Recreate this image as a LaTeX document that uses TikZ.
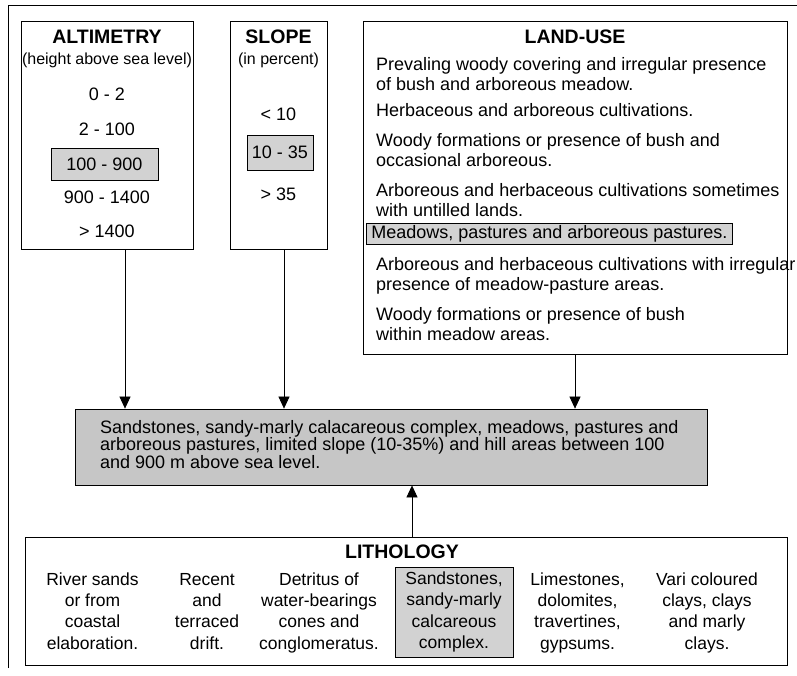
\documentclass[tikz,border=0pt]{standalone}
\usepackage{fontspec}
\setmainfont{Liberation Sans}
\usetikzlibrary{arrows.meta, positioning}

\begin{document}
\begin{tikzpicture}[
    x=1pt, y=-1pt,
    panel/.style={rectangle, draw, line width=0.8pt},
    shaded/.style={rectangle, draw, line width=0.6pt, fill=gray!35},
    title/.style={font=\fontsize{19.5}{22}\selectfont\bfseries, inner sep=0pt},
    subtitle/.style={font=\fontsize{16}{18}\selectfont, inner sep=0pt},
    entry/.style={font=\fontsize{18}{20}\selectfont, inner sep=0pt},
    rock/.style={font=\fontsize{17.5}{21.3}\selectfont, align=center, inner sep=0pt},
    arrow/.style={-{Triangle[length=12pt, width=11pt]}, line width=0.7pt},
]

\useasboundingbox (0,0) rectangle (797,675);

% outer frame, only top and left edge visible
\draw[line width=0.6pt] (8,668) -- (8,5) -- (797,5);

% altimetry
\node[panel, minimum width=172pt, minimum height=228pt] (altimetry) at (107,135) {};
\node[title, anchor=base] (alttitle) at (107,43) {ALTIMETRY};
\node[subtitle, anchor=base] (altsub) at (107,64) {(height above sea level)};
\node[entry, anchor=base] (alt1) at (107,100) {0 - 2};
\node[entry, anchor=base] (alt2) at (107,135) {2 - 100};
\node[entry, shaded, minimum width=107pt, minimum height=32pt] (alt3) at (104.5,164) {100 - 900};
\node[entry, anchor=base] (alt4) at (107,203) {900 - 1400};
\node[entry, anchor=base] (alt5) at (107,237) {> 1400};

% slope
\node[panel, minimum width=97pt, minimum height=228pt] (slope) at (278.5,135) {};
\node[title, anchor=base] (slopetitle) at (278.5,43) {SLOPE};
\node[subtitle, anchor=base] (slopesub) at (278.5,64) {(in percent)};
\node[entry, anchor=base] (slope1) at (278.5,120) {< 10};
\node[entry, shaded, minimum width=66pt, minimum height=35pt] (slope2) at (280,152.5) {10 - 35};
\node[entry, anchor=base] (slope3) at (278.5,200) {> 35};

% land-use (base of a two-line node is its last line)
\node[panel, minimum width=424pt, minimum height=333pt] (landuse) at (575,187.5) {};
\node[title, anchor=base] (landtitle) at (575,43) {LAND-USE};
\node[entry, anchor=base west, align=left] (land1) at (376,90)
    {Prevaling woody covering and irregular presence\\of bush and arboreous meadow.};
\node[entry, anchor=base west] (land2) at (376,116) {Herbaceous and arboreous cultivations.};
\node[entry, anchor=base west, align=left] (land3) at (376,166)
    {Woody formations or presence of bush and\\occasional arboreous.};
\node[entry, anchor=base west, align=left] (land4) at (376,216)
    {Arboreous and herbaceous cultivations sometimes\\with untilled lands.};
\node[entry, shaded, anchor=west, inner xsep=5pt, minimum height=21pt] (land5) at (366,234)
    {Meadows, pastures and arboreous pastures.};
\node[entry, anchor=base west, align=left] (land6) at (376,290)
    {Arboreous and herbaceous cultivations with irregular\\presence of meadow-pasture areas.};
\node[entry, anchor=base west, align=left] (land7) at (376,340)
    {Woody formations or presence of bush\\within meadow areas.};

% resulting unit
\node[shaded, fill=gray!45, line width=0.8pt, minimum width=632pt, minimum height=76pt] (result) at (391,447) {};
\node[entry, anchor=base west, align=left, font=\fontsize{18}{17.5}\selectfont] (resulttext) at (100,468)
    {Sandstones, sandy-marly calacareous complex, meadows, pastures and\\
     arboreous pastures, limited slope (10-35\%) and hill areas between 100\\
     and 900 m above sea level.};

% lithology
\node[panel, minimum width=762pt, minimum height=128pt] (lithology) at (406,601) {};
\node[title, anchor=base] (lithtitle) at (402,558) {LITHOLOGY};
\node[rock, anchor=base] (rock1) at (92.5,649) {River sands\\or from\\coastal\\elaboration.};
\node[rock, anchor=base] (rock2) at (207,649) {Recent\\and\\terraced\\drift.};
\node[rock, anchor=base] (rock3) at (319,649) {Detritus of\\water-bearings\\cones and\\conglomeratus.};
\node[rock, shaded, minimum width=118pt, minimum height=90pt] (rock4) at (454,612)
    {Sandstones,\\sandy-marly\\calcareous\\complex.};
\node[rock, anchor=base] (rock5) at (577.5,649) {Limestones,\\dolomites,\\travertines,\\gypsums.};
\node[rock, anchor=base] (rock6) at (707,649) {Vari coloured\\clays, clays\\and marly\\clays.};

% arrows into the result
\draw[arrow] ([xshift=18pt]altimetry.south) -- ([xshift=18pt]altimetry.south |- result.north);
\draw[arrow] ([xshift=5.5pt]slope.south) -- ([xshift=5.5pt]slope.south |- result.north);
\draw[arrow] (landuse.south) -- (landuse.south |- result.north);
\draw[arrow] ([xshift=6pt]lithology.north) -- ([xshift=6pt]lithology.north |- result.south);

\end{tikzpicture}
\end{document}
